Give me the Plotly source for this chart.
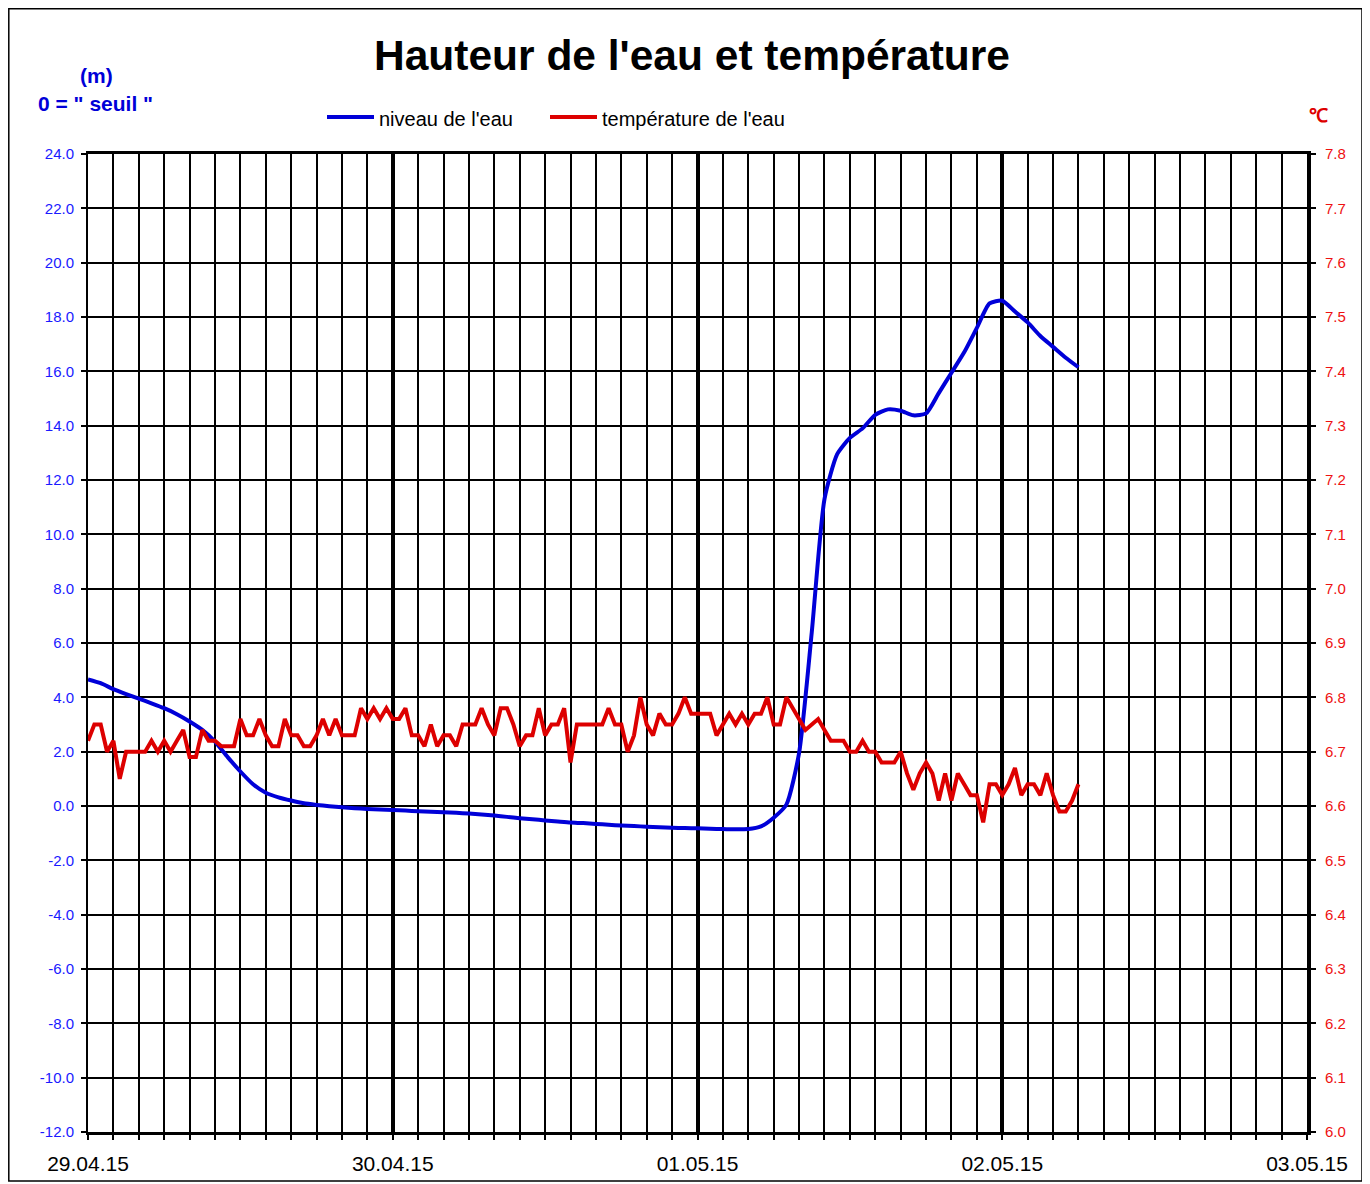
import pandas as pd
import plotly.graph_objects as go

# ---------------- data ----------------
level_start = "2015-04-29 00:00"          # hourly water level (m)
level_values = [
    4.66, 4.52, 4.30, 4.12, 3.95, 3.78, 3.60, 3.38, 3.11, 2.80,
    2.37, 1.80, 1.27, 0.80, 0.49, 0.32, 0.20, 0.10, 0.04, -0.01,
    -0.05, -0.08, -0.11, -0.13, -0.15, -0.17, -0.19, -0.21, -0.23, -0.25,
    -0.28, -0.31, -0.35, -0.40, -0.45, -0.49, -0.53, -0.57, -0.61, -0.63,
    -0.66, -0.69, -0.72, -0.74, -0.76, -0.78, -0.80, -0.81, -0.82, -0.84,
    -0.85, -0.86, -0.85, -0.75, -0.43, 0.05, 1.95, 6.40, 11.30, 12.95,
    13.55, 13.90, 14.40, 14.60, 14.55, 14.38, 14.45, 15.20, 15.95, 16.70,
    17.60, 18.50, 18.60, 18.20, 17.80, 17.30, 16.90, 16.50, 16.15,
]

temp_start = "2015-04-29 00:00"           # half-hourly water temperature (°C)
temp_values = [
    6.72, 6.75, 6.75, 6.70, 6.72, 6.65, 6.70, 6.70, 6.70, 6.70,
    6.72, 6.70, 6.72, 6.70, 6.72, 6.74, 6.69, 6.69, 6.74, 6.72,
    6.72, 6.71, 6.71, 6.71, 6.76, 6.73, 6.73, 6.76, 6.73, 6.71,
    6.71, 6.76, 6.73, 6.73, 6.71, 6.71, 6.73, 6.76, 6.73, 6.76,
    6.73, 6.73, 6.73, 6.78, 6.76, 6.78, 6.76, 6.78, 6.76, 6.76,
    6.78, 6.73, 6.73, 6.71, 6.75, 6.71, 6.73, 6.73, 6.71, 6.75,
    6.75, 6.75, 6.78, 6.75, 6.73, 6.78, 6.78, 6.75, 6.71, 6.73,
    6.73, 6.78, 6.73, 6.75, 6.75, 6.78, 6.68, 6.75, 6.75, 6.75,
    6.75, 6.75, 6.78, 6.75, 6.75, 6.70, 6.73, 6.80, 6.75, 6.73,
    6.77, 6.75, 6.75, 6.77, 6.80, 6.77, 6.77, 6.77, 6.77, 6.73,
    6.75, 6.77, 6.75, 6.77, 6.75, 6.77, 6.77, 6.80, 6.75, 6.75,
    6.80, 6.78, 6.76, 6.74, 6.75, 6.76, 6.74, 6.72, 6.72, 6.72,
    6.70, 6.70, 6.72, 6.70, 6.70, 6.68, 6.68, 6.68, 6.70, 6.66,
    6.63, 6.66, 6.68, 6.66, 6.61, 6.66, 6.61, 6.66, 6.64, 6.62,
    6.62, 6.57, 6.64, 6.64, 6.62, 6.64, 6.67, 6.62, 6.64, 6.64,
    6.62, 6.66, 6.62, 6.59, 6.59, 6.61, 6.64,
]

level_ticks = [-12.0, -10.0, -8.0, -6.0, -4.0, -2.0, 0.0, 2.0, 4.0, 6.0, 8.0,
               10.0, 12.0, 14.0, 16.0, 18.0, 20.0, 22.0, 24.0]
temp_ticks = [6.0, 6.1, 6.2, 6.3, 6.4, 6.5, 6.6, 6.7, 6.8, 6.9, 7.0,
              7.1, 7.2, 7.3, 7.4, 7.5, 7.6, 7.7, 7.8]
x_range = ["2015-04-29 00:00", "2015-05-03 00:00"]
title_text = "Hauteur de l'eau et température"
series_names = ["niveau de l'eau", "température de l'eau"]

# ---------------- figure ----------------
level_times = pd.date_range(level_start, periods=len(level_values), freq="1h")
temp_times = pd.date_range(temp_start, periods=len(temp_values), freq="30min")

FONT = "Liberation Sans, Arial, sans-serif"
BLUE = "#0000d8"
RED = "#dd0000"

OFF = 8  # page body margin offset of the rendered figure
W, H = 1362, 1176
L, R, T, B = 88 - OFF, 63, 154 - OFF, 52
PW, PH = W - L - R, H - T - B


def px(xs):
    """screen pixel x -> paper coordinate"""
    return (xs - OFF - L) / PW


def py(ys):
    """screen pixel y -> paper coordinate"""
    return (H - B - (ys - OFF)) / PH


fig = go.Figure()
fig.add_trace(go.Scatter(x=level_times, y=level_values, mode="lines",
                         name=series_names[0], yaxis="y",
                         line=dict(color=BLUE, width=4, shape="spline", smoothing=0.6)))
fig.add_trace(go.Scatter(x=temp_times, y=temp_values, mode="lines",
                         name=series_names[1], yaxis="y2",
                         line=dict(color=RED, width=4)))

fig.update_layout(
    width=W, height=H, autosize=False,
    margin=dict(l=L, r=R, t=T, b=B, autoexpand=False),
    paper_bgcolor="white", plot_bgcolor="white",
    showlegend=False,
    font=dict(family=FONT, color="black"),
    title=dict(text="<b>" + title_text + "</b>", x=(692 - OFF) / W, xref="container",
               y=1 - (55 - OFF) / H, yref="container", xanchor="center", yanchor="middle",
               automargin=False,
               font=dict(size=42.5, color="black", family=FONT)),
    xaxis=dict(
        type="date", range=x_range, automargin=False,
        tickmode="linear", tick0=x_range[0], dtick=86400000,
        tickformat="%d.%m.%y",
        tickfont=dict(size=21, color="black"),
        ticks="outside", ticklen=5, tickwidth=2, tickcolor="black",
        ticklabelstandoff=6,
        showgrid=True, gridcolor="black", gridwidth=4,
        minor=dict(dtick=7200000, tick0=x_range[0], showgrid=True,
                   gridcolor="black", gridwidth=2,
                   ticks="outside", ticklen=5, tickwidth=1.5, tickcolor="black"),
        showline=True, linecolor="black", linewidth=3, mirror=True,
        zeroline=False,
    ),
    yaxis=dict(
        range=[-12, 24], automargin=False,
        tickmode="array", tickvals=level_ticks,
        ticktext=[f"{v:.1f}" for v in level_ticks],
        tickfont=dict(size=15, color="#1a1aff"),
        ticks="outside", ticklen=5, tickwidth=1.5, tickcolor="black",
        ticklabelstandoff=4,
        showgrid=True, gridcolor="black", gridwidth=2,
        showline=True, linecolor="black", linewidth=2,
        zeroline=False,
    ),
    yaxis2=dict(
        overlaying="y", side="right", automargin=False,
        range=[6.0, 7.8],
        tickmode="array", tickvals=temp_ticks,
        ticktext=[f"{v:.1f}" for v in temp_ticks],
        tickfont=dict(size=15, color="#ee1111"),
        ticks="outside", ticklen=5, tickwidth=1.5, tickcolor="black",
        ticklabelstandoff=6,
        showgrid=False, zeroline=False,
        showline=True, linecolor="black", linewidth=4,
    ),
)

shapes = [
    # outer frame
    dict(type="rect", xref="paper", yref="paper",
         x0=px(8.8), x1=px(1362), y0=py(1181), y1=py(8.8),
         line=dict(color="black", width=1.5), layer="below"),
    # legend samples
    dict(type="line", xref="paper", yref="paper",
         x0=px(327), x1=px(374), y0=py(117), y1=py(117),
         line=dict(color=BLUE, width=4)),
    dict(type="line", xref="paper", yref="paper",
         x0=px(550), x1=px(597), y0=py(117), y1=py(117),
         line=dict(color=RED, width=4)),
]

annotations = [
    dict(text="<b>(m)</b>", x=px(96), y=py(75), xref="paper", yref="paper",
         showarrow=False, xanchor="center", yanchor="middle",
         font=dict(size=21, color=BLUE, family=FONT)),
    dict(text='<b>0 = " seuil "</b>', x=px(95), y=py(103), xref="paper", yref="paper",
         showarrow=False, xanchor="center", yanchor="middle",
         font=dict(size=21, color=BLUE, family=FONT)),
    dict(text="<b>℃</b>", x=px(1318), y=py(116), xref="paper", yref="paper",
         showarrow=False, xanchor="center", yanchor="middle",
         font=dict(size=19, color=RED, family=FONT)),
    dict(text=series_names[0], x=px(377), y=py(119), xref="paper", yref="paper",
         showarrow=False, xanchor="left", yanchor="middle",
         font=dict(size=20, color="black", family=FONT)),
    dict(text=series_names[1], x=px(600), y=py(119), xref="paper", yref="paper",
         showarrow=False, xanchor="left", yanchor="middle",
         font=dict(size=20, color="black", family=FONT)),
]

fig.update_layout(shapes=shapes, annotations=annotations)

fig.write_html("out.html")
